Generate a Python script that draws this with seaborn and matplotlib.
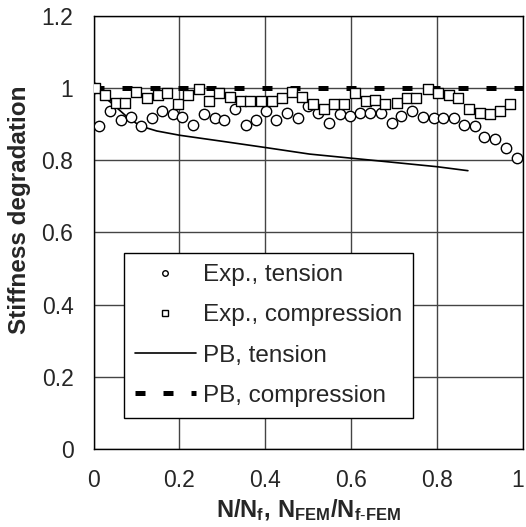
import numpy as np
import pandas as pd
import seaborn as sns
import matplotlib.pyplot as plt
import matplotlib.transforms as mtransforms
from matplotlib.lines import Line2D
from matplotlib.ticker import MultipleLocator

# experimental data, tension (circles)
ten_x = [0.0, 0.013, 0.038, 0.063, 0.088, 0.110, 0.135, 0.160, 0.185, 0.207, 0.232,
         0.257, 0.282, 0.304, 0.329, 0.354, 0.379, 0.401, 0.426, 0.451, 0.476, 0.500,
         0.523, 0.548, 0.573, 0.598, 0.620, 0.645, 0.669, 0.696, 0.717, 0.742, 0.767,
         0.792, 0.814, 0.839, 0.864, 0.889, 0.910, 0.936, 0.961, 0.986]
ten_y = [1.0, 0.894, 0.937, 0.911, 0.919, 0.894, 0.916, 0.937, 0.928, 0.919, 0.898,
         0.928, 0.916, 0.911, 0.942, 0.898, 0.911, 0.937, 0.911, 0.932, 0.916, 0.949,
         0.932, 0.902, 0.928, 0.923, 0.932, 0.932, 0.932, 0.902, 0.923, 0.937, 0.919,
         0.916, 0.916, 0.916, 0.898, 0.894, 0.863, 0.858, 0.833, 0.807]

# experimental data, compression (squares)
com_x = [0.003, 0.027, 0.052, 0.074, 0.099, 0.124, 0.149, 0.171, 0.196, 0.221, 0.246,
         0.268, 0.293, 0.318, 0.343, 0.365, 0.390, 0.415, 0.440, 0.462, 0.486, 0.511,
         0.537, 0.559, 0.583, 0.609, 0.634, 0.655, 0.680, 0.706, 0.731, 0.752, 0.778,
         0.803, 0.827, 0.849, 0.875, 0.900, 0.924, 0.946, 0.971]
com_y = [1.0, 0.981, 0.958, 0.958, 0.989, 0.972, 0.981, 0.985, 0.955, 0.981, 0.996,
         0.963, 0.985, 0.976, 0.963, 0.963, 0.963, 0.963, 0.972, 0.989, 0.976, 0.955,
         0.942, 0.955, 0.955, 0.985, 0.963, 0.968, 0.955, 0.959, 0.972, 0.972, 0.997,
         0.985, 0.981, 0.972, 0.942, 0.932, 0.929, 0.937, 0.955]

# PB model
pb_ten_x = [0.0, 0.04, 0.077, 0.108, 0.147, 0.201, 0.302, 0.401, 0.503, 0.597, 0.8, 0.872]
pb_ten_y = [1.0, 0.96, 0.921, 0.895, 0.881, 0.869, 0.852, 0.835, 0.817, 0.806, 0.782, 0.771]
pb_com_x = [0.0, 1.0]
pb_com_y = [1.0, 1.0]

xticks = [0, 0.2, 0.4, 0.6, 0.8, 1.0]
xlabels = ['0', '0.2', '0.4', '0.6', '0.8', '1']
yticks = [0, 0.2, 0.4, 0.6, 0.8, 1.0, 1.2]
ylabels = ['0', '0.2', '0.4', '0.6', '0.8', '1', '1.2']

sns.set_style("white")
plt.rcParams['font.family'] = ['Liberation Sans', 'DejaVu Sans']
plt.rcParams['mathtext.fontset'] = 'custom'
plt.rcParams['mathtext.rm'] = 'Liberation Sans'
plt.rcParams['mathtext.bf'] = 'Liberation Sans:bold'

fig = plt.figure(figsize=(5.26, 5.27), dpi=100)
ax = fig.add_axes([0.178, 0.148, 0.816, 0.822])

sns.lineplot(x=pb_com_x, y=pb_com_y, ax=ax, color='black', lw=3.6, zorder=3)
ax.lines[-1].set_dashes([2.0, 3.6])
sns.lineplot(x=pb_ten_x, y=pb_ten_y, ax=ax, color='black', lw=1.2, zorder=3)

sns.scatterplot(x=ten_x, y=ten_y, ax=ax, marker='o', s=56, facecolor='white',
                edgecolor='black', linewidth=1.0, zorder=4)
sns.scatterplot(x=com_x, y=com_y, ax=ax, marker='s', s=44, facecolor='white',
                edgecolor='black', linewidth=1.0, zorder=4)

ax.set_xlim(0, 1)
ax.set_ylim(0, 1.2)
ax.set_xticks(xticks)
ax.set_xticklabels(xlabels)
ax.set_yticks(yticks)
ax.set_yticklabels(ylabels)
ax.xaxis.set_minor_locator(MultipleLocator(0.1))
ax.yaxis.set_minor_locator(MultipleLocator(0.1))
ax.grid(True, which='major', color='#444444', lw=1.0, zorder=1)
ax.tick_params(which='both', direction='in', length=5, width=1, color='black',
               labelsize=16.5, pad=14.5)
for sp in ax.spines.values():
    sp.set_color('black')
    sp.set_linewidth(1.0)

# keep the last x tick label inside the picture
last = ax.get_xticklabels()[-1]
last.set_transform(last.get_transform() +
                   mtransforms.ScaledTranslation(-5 / 100, 0, fig.dpi_scale_trans))

ax.set_ylabel('Stiffness degradation', fontsize=17.5, fontweight='bold')
ax.yaxis.set_label_coords(-0.146, 0.553)
ax.set_xlabel(r'$\mathbf{N/N_{f}{,}\ N_{FEM}/N_{f\text{-}FEM}}$', fontsize=17, labelpad=4)

handles = [
    Line2D([], [], ls='none', marker='o', ms=4, mfc='white', mec='black', mew=1),
    Line2D([], [], ls='none', marker='s', ms=4, mfc='white', mec='black', mew=1),
    Line2D([], [], color='black', lw=1.2),
    Line2D([], [], color='black', lw=3.6, dashes=[2.0, 3.6]),
]
labels = ['Exp., tension', 'Exp., compression', 'PB, tension', 'PB, compression']
leg = ax.legend(handles, labels, loc='lower left', bbox_to_anchor=(0.071, 0.072),
                fontsize=17.5, frameon=True, fancybox=False, framealpha=1,
                edgecolor='black', handlelength=2.5, handletextpad=0.3,
                labelspacing=0.75, borderpad=0.45, borderaxespad=0)
leg.get_frame().set_linewidth(1.0)
leg.set_zorder(6)

fig.savefig('out.png', dpi=100)
